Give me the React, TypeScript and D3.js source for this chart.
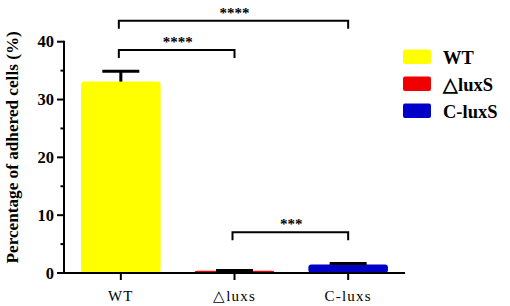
import React from "react";
import * as d3 from "d3";

const categories = ["WT", "△luxs", "C-luxs"];
const means = [33.1, 0.4, 1.45];
const errors = [1.8, 0.05, 0.2];
const colors = ["#FFFF00", "#F00000", "#0000C8"];
const legendLabels = ["WT", "△luxS", "C-luxS"];
const majorTicks = [0, 10, 20, 30, 40];
const minorTicks = [5, 15, 25, 35];
const comparisons: [number, number, string, number][] = [
  [0, 2, "****", 20.7],
  [0, 1, "****", 50],
  [1, 2, "***", 232.3],
];

export default function App() {
  const W = 510, H = 306;
  const x = d3.scaleBand<string>().domain(categories).range([64, 405]).paddingInner(0.3).paddingOuter(0.15);
  const y = d3.scaleLinear().domain([0, 40]).range([273, 41.7]);
  const serif = "Liberation Serif";
  const cx = (i: number) => (x(categories[i]) as number) + x.bandwidth() / 2;
  return (
    <svg width={W} height={H} style={{ position: "absolute", left: 0, top: 0, background: "#fff" }}>
      {categories.map((c, i) => (
        <rect key={c} x={x(c)} y={y(means[i])} width={x.bandwidth()} height={y(0) - y(means[i])} fill={colors[i]} rx={3} />
      ))}
      {categories.map((c, i) => (
        <g key={"e" + c} stroke="#000" strokeWidth={3}>
          <line x1={cx(i)} x2={cx(i)} y1={y(means[i])} y2={y(means[i] + errors[i])} />
          <line x1={cx(i) - 18.5} x2={cx(i) + 18.5} y1={y(means[i] + errors[i])} y2={y(means[i] + errors[i])} />
        </g>
      ))}
      <line x1={64} x2={64} y1={y(40) - 1} y2={y(0) + 1} stroke="#000" strokeWidth={2} />
      {majorTicks.map((t) => (
        <g key={"t" + t}>
          <line x1={57} x2={64} y1={y(t)} y2={y(t)} stroke="#000" strokeWidth={2} />
          <text x={54} y={y(t)} dy="0.35em" textAnchor="end" style={{ fontFamily: serif, fontWeight: "bold", fontSize: 16.5 }}>{t}</text>
        </g>
      ))}
      {minorTicks.map((t) => (
        <line key={"m" + t} x1={60.5} x2={64} y1={y(t)} y2={y(t)} stroke="#000" strokeWidth={2} />
      ))}
      <text transform={`translate(18,${(y(0) + y(40)) / 2 - 10}) rotate(-90)`} textAnchor="middle" style={{ fontFamily: serif, fontWeight: "bold", fontSize: 17.2 }}>
        Percentage of adhered cells (%)
      </text>
      <line x1={63} x2={405} y1={y(0)} y2={y(0)} stroke="#000" strokeWidth={2} />
      {categories.map((c, i) => (
        <g key={"x" + c}>
          <line x1={cx(i)} x2={cx(i)} y1={y(0)} y2={y(0) + 7} stroke="#000" strokeWidth={2} />
          <text x={cx(i)} y={301} textAnchor="middle" style={{ fontFamily: serif, fontSize: 15, letterSpacing: 1.2 }}>{c}</text>
        </g>
      ))}
      {comparisons.map(([a, b, s, yy], k) => (
        <g key={"c" + k}>
          <path d={`M${cx(a) - 2},${yy + 8} V${yy} H${cx(b)} V${yy + 8}`} fill="none" stroke="#000" strokeWidth={2} />
          <text x={(cx(a) + cx(b)) / 2} y={yy - 3} textAnchor="middle" style={{ fontFamily: serif, fontWeight: "bold", fontSize: 15 }}>{s}</text>
        </g>
      ))}
      {legendLabels.map((l, i) => (
        <g key={"l" + l}>
          <rect x={403} y={49.5 + i * 27} width={28} height={14.5} rx={2} fill={colors[i]} />
          <text x={443} y={63.5 + i * 27} style={{ fontFamily: serif, fontWeight: "bold", fontSize: 18.5 }}>{l}</text>
        </g>
      ))}
    </svg>
  );
}
